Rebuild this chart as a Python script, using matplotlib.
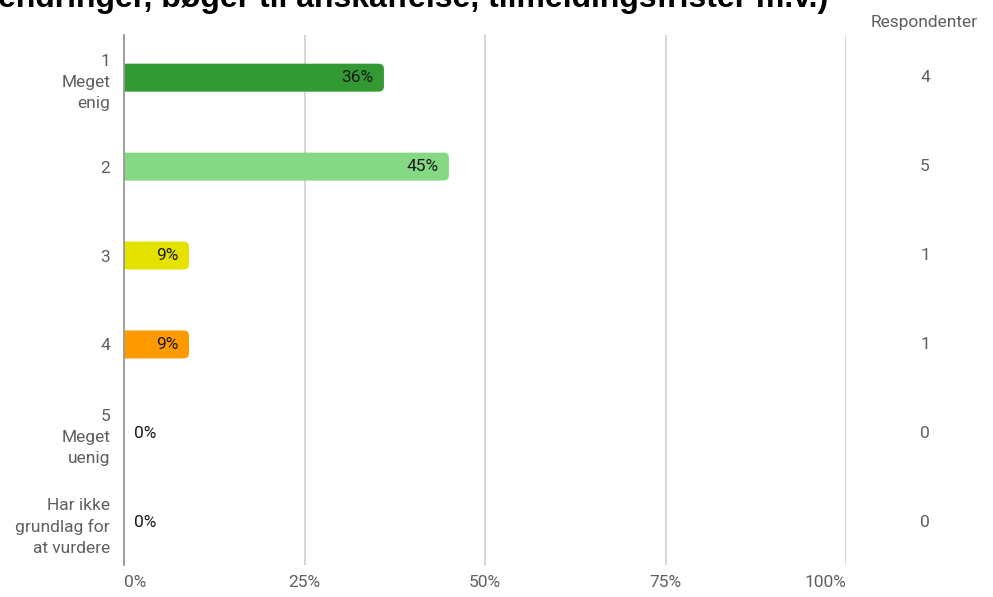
import matplotlib.pyplot as plt
from matplotlib.patches import FancyBboxPatch

plt.rcParams['font.family'] = ['Roboto', 'DejaVu Sans']

# data
categories = ['1\nMeget\nenig', '2', '3', '4', '5\nMeget\nuenig', 'Har ikke\ngrundlag for\nat vurdere']
percents = [36, 45, 9, 9, 0, 0]
respondents = [4, 5, 1, 1, 0, 0]
bar_colors = ['#339933', '#85d985', '#e6e200', '#ff9900', '#cccccc', '#cccccc']
xticks = [0, 25, 50, 75, 100]
title = 'endringer, bøger til anskaffelse, tilmeldingsfrister m.v.)'

fig = plt.figure(figsize=(9.93, 5.97), dpi=100)
ax = fig.add_axes([124 / 993, 1 - 565 / 597, (846 - 124) / 993, (565 - 35) / 597])

ax.set_xlim(0, 100)
ax.set_ylim(len(categories) - 0.52, -0.48)

bar_h = 28 / 89
for i, (p, c) in enumerate(zip(percents, bar_colors)):
    if p > 0:
        patch = FancyBboxPatch((-2, i - bar_h / 2), p + 2, bar_h,
                               boxstyle='round,pad=0,rounding_size=0.75',
                               mutation_aspect=0.075, facecolor=c, edgecolor='none',
                               zorder=3, clip_on=True)
        ax.add_patch(patch)
        ax.text(p - 1.4, i, f'{p}%', ha='right', va='center', fontsize=12.5,
                color='#1a1a1a', zorder=4)
    else:
        ax.text(1.4, i, f'{p}%', ha='left', va='center', fontsize=12.5,
                color='#1a1a1a', zorder=4)

ax.set_yticks(range(len(categories)))
ax.set_yticklabels(categories, fontsize=12.5, color='#5f5f5f', linespacing=1.5)
ax.tick_params(axis='y', length=0, pad=10)

ax.set_xticks(xticks)
labels = ax.set_xticklabels([f'{t}%' for t in xticks], fontsize=12.5, color='#5f5f5f')
labels[0].set_ha('left')
labels[-1].set_ha('right')
ax.tick_params(axis='x', length=0, pad=7)

ax.grid(axis='x', color='#cccccc', linewidth=1.1, zorder=0)
ax.set_axisbelow(True)
for s in ['top', 'right', 'bottom']:
    ax.spines[s].set_visible(False)
ax.spines['left'].set_color('#999999')
ax.spines['left'].set_linewidth(1.3)
ax.spines['left'].set_zorder(5)

# respondents column
for i, r in enumerate(respondents):
    y_fig = fig.transFigure.inverted().transform(ax.transData.transform((0, i)))[1]
    fig.text(925 / 993, y_fig, str(r), ha='center', va='center', fontsize=12.5, color='#5f5f5f')
fig.text(924 / 993, 1 - 23 / 597, 'Respondenter', ha='center', va='center', fontsize=12.5, color='#5f5f5f')

fig.text(-0.002, 1 - 7 / 597, title, ha='left', va='baseline', fontsize=23, fontweight='bold',
         family=['Liberation Sans', 'DejaVu Sans'], color='#000000')

plt.savefig('out.png', dpi=100)
plt.close()
